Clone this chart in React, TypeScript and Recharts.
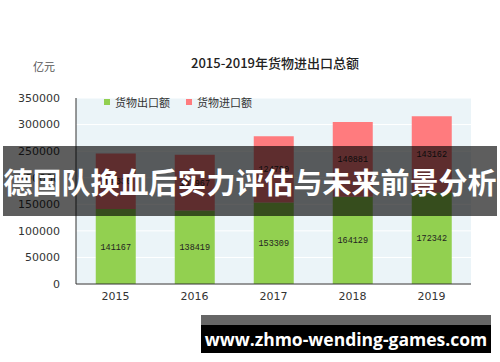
import { BarChart, Bar, XAxis, YAxis, CartesianGrid, Legend, LabelList } from 'recharts'

const years = ['2015', '2016', '2017', '2018', '2019']
const exportValues = [141167, 138419, 153309, 164129, 172342]
const importValues = [104336, 104967, 124790, 140881, 143162]
const yTicks = [0, 50000, 100000, 150000, 200000, 250000, 300000, 350000]

const data = years.map((year, i) => ({
  year,
  exports: exportValues[i],
  imports: importValues[i],
}))

const cjk = '"Noto Sans CJK SC", "Noto Sans", sans-serif'

const renderLegend = (props: any) => (
  <div style={{ display: 'flex', alignItems: 'center', fontFamily: cjk, fontSize: 11, color: '#333' }}>
    {props.payload.map((entry: any) => (
      <div key={entry.value} style={{ display: 'flex', alignItems: 'center', marginRight: 16 }}>
        <span style={{ width: 6, height: 6, background: entry.color, marginRight: 5, display: 'inline-block' }} />
        <span>{entry.value}</span>
      </div>
    ))}
  </div>
)

export default function App() {
  return (
    <div style={{ position: 'absolute', left: 0, top: 0, width: 500, height: 362, background: '#fff', overflow: 'hidden' }}>
      <BarChart
        width={500}
        height={362}
        data={data}
        margin={{ top: 82, right: 29, left: 0, bottom: 0 }}
        barCategoryGap="25%"
      >
        <CartesianGrid vertical={false} stroke="#ffffff" fill="#EBF4F8" />
        <XAxis
          dataKey="year"
          height={78}
          tickLine={false}
          tickSize={0}
          tickMargin={8}
          axisLine={{ stroke: '#333' }}
          tick={{ fill: '#333', fontSize: 11, fontFamily: 'Verdana, "DejaVu Sans", sans-serif' }}
        />
        <XAxis xAxisId="top" dataKey="year" orientation="top" height={0} tick={false} tickLine={false} axisLine={{ stroke: '#555' }} />
        <YAxis
          width={76}
          domain={[0, 350000]}
          ticks={yTicks}
          interval={0}
          tickLine={false}
          tickSize={0}
          tickMargin={16}
          axisLine={{ stroke: '#333' }}
          tick={{ fill: '#333', fontSize: 11, fontFamily: 'Verdana, "DejaVu Sans", sans-serif' }}
        />
        <YAxis yAxisId="right" orientation="right" width={0} tick={false} tickLine={false} axisLine={{ stroke: '#555' }} />
        <Legend
          verticalAlign="top"
          content={renderLegend}
          wrapperStyle={{ position: 'absolute', top: 94, left: 104, width: 'auto' }}
        />
        <Bar dataKey="exports" name="货物出口额" stackId="a" fill="#92D050" isAnimationActive={false}>
          <LabelList dataKey="exports" position="center" fill="#222" fontSize={8.5} fontFamily='"Liberation Mono", monospace' />
        </Bar>
        <Bar dataKey="imports" name="货物进口额" stackId="a" fill="#FF7B7E" isAnimationActive={false}>
          <LabelList dataKey="imports" position="center" fill="#222" fontSize={8.5} fontFamily='"Liberation Mono", monospace' />
        </Bar>
      </BarChart>

      <div style={{ position: 'absolute', left: 0, width: 550, top: 53, textAlign: 'center', fontFamily: cjk, fontSize: 13, fontWeight: 500, color: '#222' }}>
        2015-2019年货物进出口总额
      </div>
      <div style={{ position: 'absolute', left: 33, top: 58, fontFamily: cjk, fontSize: 11, color: '#555' }}>亿元</div>

      <div
        style={{
          position: 'absolute', left: 3, top: 146, width: 494, height: 70,
          background: 'rgba(0,0,0,0.63)', display: 'flex', alignItems: 'center', justifyContent: 'center',
          color: '#fff', fontFamily: cjk, fontWeight: 700, fontSize: 29, whiteSpace: 'nowrap',
        }}
      >
        德国队换血后实力评估与未来前景分析
      </div>

      <div style={{ position: 'absolute', left: 201, top: 315, width: 290, height: 10, background: '#666' }} />
      <div
        style={{
          position: 'absolute', left: 201, top: 325, width: 290, height: 28, background: '#000',
          display: 'flex', alignItems: 'center', justifyContent: 'center',
          color: '#fff', fontFamily: '"Open Sans", sans-serif', fontWeight: 700, fontSize: 17.5, whiteSpace: 'nowrap',
        }}
      >
        www.zhmo-wending-games.com
      </div>
    </div>
  )
}
